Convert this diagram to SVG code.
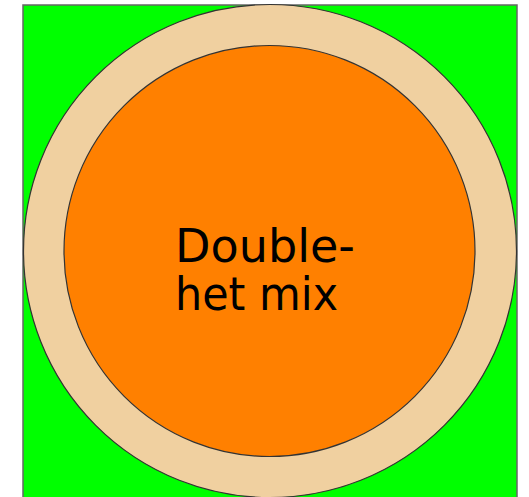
<svg xmlns="http://www.w3.org/2000/svg" width="529" height="497" viewBox="0 0 529 497">
<style>
.bg{fill:#00ff00;stroke:#666;stroke-width:1.5}
.ring{fill:#f0d0a0;stroke:#333;stroke-width:1.2}
.core{fill:#ff8000;stroke:#333;stroke-width:1.2}
.lbl{font-family:"DejaVu Sans","Liberation Sans",sans-serif;font-size:47px;fill:#000}
</style>
<rect width="529" height="497" fill="#fff"/>
<g id="square"><rect class="bg" x="23" y="5" width="494" height="494"/></g>
<g id="outer"><circle class="ring" cx="270" cy="251" r="246.5"/></g>
<g id="inner"><circle class="core" cx="269.5" cy="251" r="205.5"/></g>
<g id="label">
<text class="lbl" x="175" y="262" textLength="180" lengthAdjust="spacingAndGlyphs">Double-</text>
<text class="lbl" x="175" y="310" textLength="163" lengthAdjust="spacingAndGlyphs">het mix</text>
</g>
</svg>
